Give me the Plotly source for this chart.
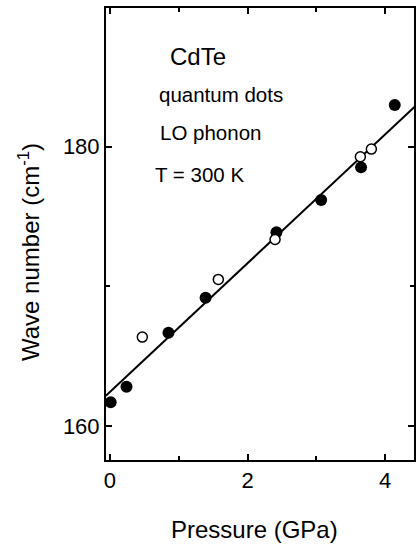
import plotly.graph_objects as go

# Data
filled_x = [0.01, 0.24, 0.85, 1.39, 2.42, 3.07, 3.65, 4.14]
filled_y = [161.70, 162.81, 166.68, 169.18, 173.87, 176.18, 178.52, 182.98]
open_x = [0.47, 1.575, 2.40, 3.64, 3.80]
open_y = [166.37, 170.50, 173.36, 179.28, 179.83]
fit_x = [-0.06, 4.45]
fit_y = [162.17, 182.95]

x_ticks = [0, 2, 4]
y_ticks = [160, 180]
labels = ["CdTe", "quantum dots", "LO phonon", "T = 300 K"]

FONT = "Arial, 'Liberation Sans', Helvetica, sans-serif"

W, H = 416, 547
L, R, T, B = 106, 0, 8, 87
PW = W - L - R
PH = H - T - B


def px(xp):
    return (xp - L) / PW


def py(yp):
    return (H - B - yp) / PH


fig = go.Figure()
fig.add_trace(go.Scatter(x=fit_x, y=fit_y, mode="lines",
                         line=dict(color="black", width=2), showlegend=False,
                         cliponaxis=True))
fig.add_trace(go.Scatter(x=filled_x, y=filled_y, mode="markers",
                         marker=dict(symbol="circle", size=12, color="black",
                                     line=dict(width=0)),
                         showlegend=False))
fig.add_trace(go.Scatter(x=open_x, y=open_y, mode="markers",
                         marker=dict(symbol="circle", size=10, color="white",
                                     line=dict(color="black", width=1.5)),
                         showlegend=False))

axis_common = dict(
    showline=True, linecolor="black", linewidth=2, mirror="ticks",
    ticks="inside", ticklen=6, tickwidth=1.5, tickcolor="black",
    showgrid=False, zeroline=False,
    tickfont=dict(family=FONT, size=22, color="black"),
)

fig.update_xaxes(range=[-0.058, 4.42], tickvals=x_ticks,
                 ticktext=[str(v) for v in x_ticks],
                 minor=dict(tickvals=[1, 3], ticklen=4, tickwidth=1.5,
                            tickcolor="black", ticks="inside", showgrid=False),
                 **axis_common)
fig.update_yaxes(range=[157.57, 189.93], tickvals=y_ticks,
                 ticktext=[str(v) for v in y_ticks],
                 minor=dict(tickvals=[170], ticklen=4, tickwidth=1.5,
                            tickcolor="black", ticks="inside", showgrid=False),
                 **axis_common)

annos = []
# in-plot labels: (text, left px, baseline px, size)
lab_pos = [(labels[0], 168, 65, 24), (labels[1], 157, 101.7, 20.5),
           (labels[2], 158, 140, 20.5), (labels[3], 153, 181.7, 20.5)]
for txt, lx, by, fs in lab_pos:
    annos.append(dict(text=txt, xref="paper", yref="paper",
                      x=px(lx), y=py(by - 0.35 * fs), xanchor="left",
                      yanchor="middle", showarrow=False,
                      font=dict(family=FONT, size=fs, color="black")))

annos.append(dict(text="Pressure (GPa)", xref="paper", yref="paper",
                  x=px(255), y=py(529), xanchor="center", yanchor="middle",
                  showarrow=False,
                  font=dict(family=FONT, size=24, color="black")))
annos.append(dict(text="Wave number (cm<sup>-1</sup>)", xref="paper",
                  yref="paper", x=px(28), y=py(252.5), xanchor="center",
                  yanchor="middle", textangle=-90, showarrow=False,
                  font=dict(family=FONT, size=24, color="black")))

fig.update_layout(
    width=W, height=H,
    margin=dict(l=L, r=R, t=T, b=B, pad=0),
    paper_bgcolor="white", plot_bgcolor="white",
    annotations=annos,
    font=dict(family=FONT, color="black"),
)

fig.write_html("out.html")
